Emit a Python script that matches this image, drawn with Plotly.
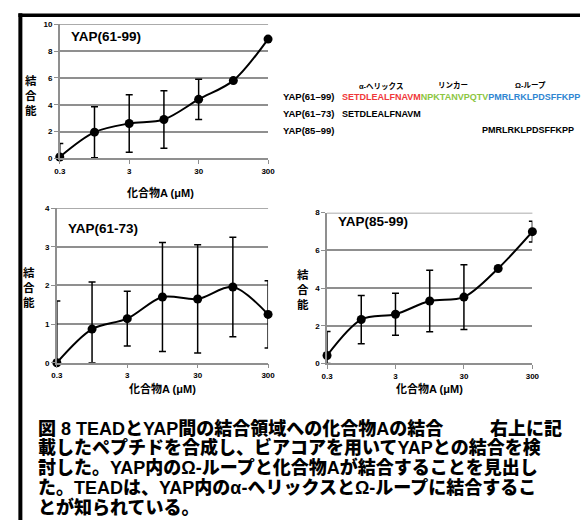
import plotly.graph_objects as go

# ---------------- data ----------------
CONC = ["0.3", "1", "3", "10", "30", "100", "300"]
TICK_LABELS = ["0.3", "3", "30", "300"]

S1_NAME = "YAP(61-99)"
S1_Y = [0.1, 1.95, 2.6, 2.9, 4.4, 5.8, 8.9]
S1_ERR = [1.0, 1.9, 2.15, 2.15, 1.5, 0.0, 0.0]

S2_NAME = "YAP(61-73)"
S2_Y = [0.0, 0.87, 1.14, 1.70, 1.65, 1.96, 1.25]
S2_ERR = [1.6, 1.22, 0.71, 1.41, 1.40, 1.29, 0.87]

S3_NAME = "YAP(85-99)"
S3_Y = [0.42, 2.33, 2.61, 3.31, 3.52, 5.04, 6.99]
S3_ERR = [1.27, 1.28, 1.12, 1.63, 1.72, 0.0, 0.55]

Y_TICKS_1 = [0, 2, 4, 6, 8, 10]
Y_TICKS_2 = [0, 1, 2, 3, 4]
Y_TICKS_3 = [0, 2, 4, 6, 8]

SEQ_HELIX = "SETDLEALFNAVM"
SEQ_LINKER = "NPKTANVPQTV"
SEQ_LOOP = "PMRLRKLPDSFFKPP"

CAPTION = [
    "図 8 TEADとYAP間の結合領域への化合物Aの結合",
    "載したペプチドを合成し、ビアコアを用いてYAPとの結合を検",
    "討した。YAP内のΩ-ループと化合物Aが結合することを見出し",
    "た。TEADは、YAP内のα-へリックスとΩ-ループに結合するこ",
    "とが知られている。",
]
CAPTION_TAIL = "右上に記"

# ---------------- helpers ----------------
W, H = 587, 525
def px(x):
    return x / W
def py(y):
    return 1 - y / H

GRID = "#8f8f8f"
FONT = "Liberation Sans, Arial, Noto Sans CJK JP, sans-serif"
JFONT = "Liberation Sans, Arial, Noto Sans CJK JP, sans-serif"

x_idx = list(range(len(CONC)))
tick_idx = [CONC.index(t) for t in TICK_LABELS]

fig = go.Figure()

def add_series(vals, errs, xa, ya):
    minus = [min(e, v) for v, e in zip(vals, errs)]
    fig.add_trace(go.Scatter(
        x=x_idx, y=vals, xaxis=xa, yaxis=ya, mode="lines+markers",
        line=dict(color="black", width=2, shape="spline", smoothing=0.9),
        marker=dict(color="black", size=9),
        error_y=dict(type="data", array=errs, arrayminus=minus, symmetric=False,
                     color="black", thickness=1.5, width=3.5),
        cliponaxis=False, showlegend=False, hoverinfo="skip"))

add_series(S1_Y, S1_ERR, "x", "y")
add_series(S2_Y, S2_ERR, "x2", "y2")
add_series(S3_Y, S3_ERR, "x3", "y3")

def xax(domain, anchor):
    return dict(domain=domain, anchor=anchor, range=[0, len(CONC) - 1],
                tickmode="array", tickvals=tick_idx, ticktext=TICK_LABELS,
                showgrid=False, zeroline=False, showline=True, linecolor=GRID,
                linewidth=1.5, ticks="outside", ticklen=4, tickcolor=GRID, tickwidth=1.2,
                tickfont=dict(family=FONT, size=8, color="black", weight="bold"))

def yax(domain, anchor, ticks):
    return dict(domain=domain, anchor=anchor, range=[ticks[0], ticks[-1]],
                tickmode="array", tickvals=ticks, showgrid=True, gridcolor=GRID,
                gridwidth=1.5, zeroline=False, showline=True, linecolor=GRID,
                linewidth=1.5, ticks="outside", ticklen=4, tickcolor=GRID, tickwidth=1.2,
                tickfont=dict(family=FONT, size=8, color="black", weight="bold"))

fig.update_layout(
    width=W, height=H, margin=dict(l=0, r=0, t=0, b=0),
    paper_bgcolor="white", plot_bgcolor="white", showlegend=False,
    xaxis=xax([px(55), px(268)], "y"),
    yaxis=yax([py(157), py(20.7)], "x", Y_TICKS_1),
    xaxis2=xax([px(52), px(268)], "y2"),
    yaxis2=yax([py(365), py(207.7)], "x2", Y_TICKS_2),
    xaxis3=xax([px(328.3), px(538.3)], "y3"),
    yaxis3=yax([py(365.7), py(212.3)], "x3", Y_TICKS_3),
)

# top gridlines (plotly drops gridlines at the range edge)
for xr, yr, ticks in (("x", "y", Y_TICKS_1), ("x2", "y2", Y_TICKS_2), ("x3", "y3", Y_TICKS_3)):
    fig.add_shape(type="line", xref=xr + " domain", yref=yr, x0=0, x1=1,
                  y0=ticks[-1], y1=ticks[-1], line=dict(color=GRID, width=1.5), layer="below")

# border lines
fig.add_shape(type="line", xref="paper", yref="paper", x0=px(14.7), x1=px(14.7),
              y0=py(9.5), y1=0, line=dict(color="black", width=4))
fig.add_shape(type="line", xref="paper", yref="paper", x0=px(12.7), x1=1,
              y0=py(11.5), y1=py(11.5), line=dict(color="black", width=3.5))

ann = []
def A(text, x, y, size, xanchor="center", color="black", font=FONT, weight="normal"):
    ann.append(dict(text=text, x=px(x), y=py(y), xref="paper", yref="paper",
                    xanchor=xanchor, yanchor="middle", showarrow=False,
                    font=dict(family=font, size=size, color=color, weight=weight)))

# chart titles
A("<b>" + S1_NAME + "</b>", 64, 33, 13.5, "left")
A("<b>" + S2_NAME + "</b>", 61, 228, 13.5, "left")
A("<b>" + S3_NAME + "</b>", 337, 221, 13.5, "left")

# axis titles
YT = "<b>結<br>合<br>能</b>"
A(YT, 26, 93, 11.5)
A(YT, 24, 288, 11.5)
A(YT, 304, 290, 11.5)
XT = "<b>化合物A (μM)</b>"
A(XT, 158, 192, 11)
A(XT, 160, 391, 11)
A(XT, 433, 391, 11)

# sequence panel
A("<b>α-ヘリックス</b>", 384, 83.3, 7.5)
A("<b>リンカー</b>", 456.7, 83.3, 7.5)
A("<b>Ω-ループ</b>", 536, 83.3, 7.5)
A("<b>YAP(61–99)</b>", 281, 94.3, 9.5, "left")
A("<b><span style='color:#f0383a'>" + SEQ_HELIX + "</span>"
  "<span style='color:#8cc63f'>" + SEQ_LINKER + "</span>"
  "<span style='color:#2f86d2'>" + SEQ_LOOP + "</span></b>", 341.7, 94.3, 9, "left")
A("<b>YAP(61–73)</b>", 281, 111.7, 9.5, "left")
A("<b>" + SEQ_HELIX + "</b>", 341.7, 111.7, 9, "left")
A("<b>YAP(85–99)</b>", 281, 128.3, 9.5, "left")
A("<b>" + SEQ_LOOP + "</b>", 583, 128.3, 9, "right")

# caption
cap_y = [431.5, 451.7, 471.7, 491.7, 512]
for line, yy in zip(CAPTION, cap_y):
    A(line, 31, yy, 18, "left", font=JFONT, weight=900)
A(CAPTION_TAIL, 571, cap_y[0], 18, "right", font=JFONT, weight=900)

fig.update_layout(annotations=ann)
fig.write_html("out.html", config={"displayModeBar": False},
               post_script="document.body.style.margin='0';document.body.style.overflow='hidden';")
